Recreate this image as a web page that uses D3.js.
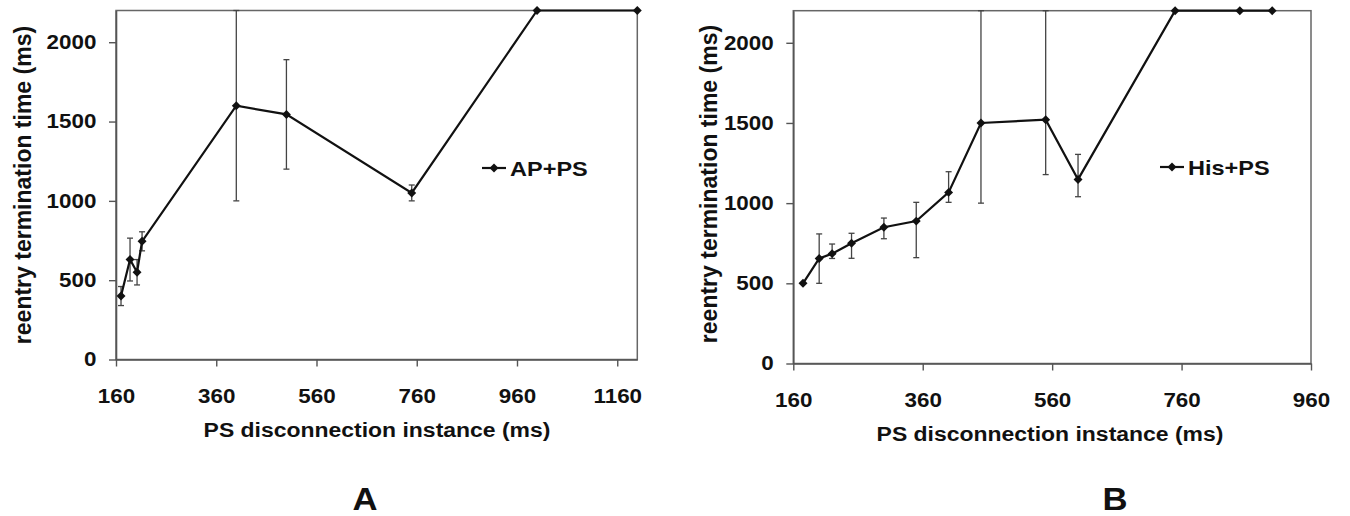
<!DOCTYPE html>
<html>
<head>
<meta charset="utf-8">
<script src="https://cdn.jsdelivr.net/npm/d3@7"></script>
<style>
  body { margin: 0; background: #fff; }
  text { font-family: "Liberation Sans", Arial, sans-serif; font-weight: bold; fill: #111; }
</style>
</head>
<body>
<div id="chart"></div>
<script>
var width = 1350,
    height = 516;

// panel A : AP+PS
var apX    = [170, 188, 202, 212, 400, 500, 750, 1000, 1200];
var apY    = [400, 630, 550, 745, 1600, 1545, 1050, 2200, 2200];
var apLow  = [340, 495, 470, 685, 1000, 1200, 1000, 2200, 2200];
var apHigh = [460, 765, 630, 805, 2200, 1890, 1100, 2200, 2200];
var apTicksX = [160, 360, 560, 760, 960, 1160];

// panel B : His+PS
var hisX    = [175, 200, 220, 250, 300, 350, 400, 450, 550, 600, 750, 850, 900];
var hisY    = [500, 655, 685, 750, 850, 888, 1067, 1500, 1520, 1148, 2200, 2200, 2200];
var hisLow  = [500, 500, 655, 656, 778, 660, 1005, 1000, 1178, 1040, 2200, 2200, 2200];
var hisHigh = [500, 808, 745, 812, 907, 1005, 1196, 2200, 2200, 1304, 2200, 2200, 2200];
var hisTicksX = [160, 360, 560, 760, 960];

var ticksY = [0, 500, 1000, 1500, 2000];

var stretch = 1.12; // the original figure is a bit wide

var svg = d3.select("#chart")
  .append("svg")
  .attr("width", width)
  .attr("height", height);

function drawPanel(p) {
  var g = svg.append("g");

  var x = d3.scaleLinear().domain(p.xDomain).range(p.xRange);
  var y = d3.scaleLinear().domain([0, 2200]).range(p.yRange);

  var pts = p.xs.map(function(d, i) {
    return { x: d, y: p.ys[i], lo: p.lows[i], hi: p.highs[i] };
  });

  // frame (top + right)
  g.append("rect")
    .attr("x", x.range()[0])
    .attr("y", y.range()[1])
    .attr("width", x.range()[1] - x.range()[0])
    .attr("height", y.range()[0] - y.range()[1])
    .attr("fill", "none")
    .attr("stroke", "#666")
    .attr("stroke-width", 1.5);

  var xAxis = g.append("g")
    .attr("transform", "translate(0," + y.range()[0] + ")")
    .call(d3.axisBottom(x).tickValues(p.ticksX).tickSize(7).tickSizeOuter(0).tickPadding(22)
      .tickFormat(d3.format("d")));
  var yAxis = g.append("g")
    .attr("transform", "translate(" + x.range()[0] + ",0)")
    .call(d3.axisLeft(y).tickValues(ticksY).tickSize(7).tickSizeOuter(0).tickPadding(10.5)
      .tickFormat(d3.format("d")));

  [xAxis, yAxis].forEach(function(a) {
    a.select(".domain").attr("stroke", "#555").attr("stroke-width", 1.6);
    a.selectAll(".tick line").attr("stroke", "#555").attr("stroke-width", 1.4);
    a.selectAll(".tick text")
      .attr("fill", "#111")
      .style("font-size", "20px")
      .attr("transform", "scale(" + stretch + ",1)");
  });

  // error bars
  var eb = g.append("g").attr("stroke", "#444").attr("stroke-width", 1.3);
  pts.filter(function(d) { return d.hi > d.lo; }).forEach(function(d) {
    eb.append("line")
      .attr("x1", x(d.x)).attr("x2", x(d.x))
      .attr("y1", y(d.lo)).attr("y2", y(d.hi));
    [d.lo, d.hi].forEach(function(v) {
      eb.append("line")
        .attr("x1", x(d.x) - 3).attr("x2", x(d.x) + 3)
        .attr("y1", y(v)).attr("y2", y(v));
    });
  });

  var line = d3.line()
    .x(function(d) { return x(d.x); })
    .y(function(d) { return y(d.y); });

  g.append("path")
    .datum(pts)
    .attr("d", line)
    .attr("fill", "none")
    .attr("stroke", "#111")
    .attr("stroke-width", 2.2);

  var diamond = d3.symbol().type(d3.symbolSquare).size(40);

  g.selectAll(".pt")
    .data(pts)
    .enter()
    .append("path")
    .attr("class", "pt")
    .attr("d", diamond)
    .attr("fill", "#111")
    .attr("transform", function(d) {
      return "translate(" + x(d.x) + "," + y(d.y) + ") rotate(45)";
    });

  // legend
  var lg = g.append("g").attr("transform", "translate(" + p.legend[0] + "," + p.legend[1] + ")");
  lg.append("line").attr("x1", 0).attr("x2", 24).attr("y1", 0).attr("y2", 0)
    .attr("stroke", "#111").attr("stroke-width", 2.2);
  lg.append("path").attr("d", diamond).attr("fill", "#111")
    .attr("transform", "translate(12,0) rotate(45)");
  lg.append("text")
    .attr("transform", "translate(28,7.5) scale(" + stretch + ",1)")
    .style("font-size", "21px")
    .text(p.name);

  // axis titles
  g.append("text")
    .attr("transform", "translate(" + p.xTitle[0] + "," + p.xTitle[1] + ") scale(" + stretch + ",1)")
    .attr("text-anchor", "middle")
    .style("font-size", "20.5px")
    .text("PS disconnection instance (ms)");

  g.append("text")
    .attr("transform", "translate(" + p.yTitle[0] + "," + p.yTitle[1] + ") rotate(-90)")
    .attr("text-anchor", "middle")
    .attr("dy", "0.35em")
    .style("font-size", "23px")
    .text("reentry termination time (ms)");

  g.append("text")
    .attr("transform", "translate(" + p.letter[0] + "," + p.letter[1] + ") scale(" + stretch + ",1)")
    .attr("text-anchor", "middle")
    .style("font-size", "31px")
    .text(p.label);
}

drawPanel({
  name: "AP+PS", label: "A",
  xs: apX, ys: apY, lows: apLow, highs: apHigh, ticksX: apTicksX,
  xDomain: [160, 1200], xRange: [116, 637.3], yRange: [359.5, 10.5],
  legend: [482, 168], xTitle: [377, 437], yTitle: [23, 185], letter: [365, 510]
});

drawPanel({
  name: "His+PS", label: "B",
  xs: hisX, ys: hisY, lows: hisLow, highs: hisHigh, ticksX: hisTicksX,
  xDomain: [160, 960], xRange: [793.3, 1311], yRange: [363.5, 10.7],
  legend: [1160, 167], xTitle: [1050, 441], yTitle: [709, 184], letter: [1115, 510]
});
</script>
</body>
</html>
